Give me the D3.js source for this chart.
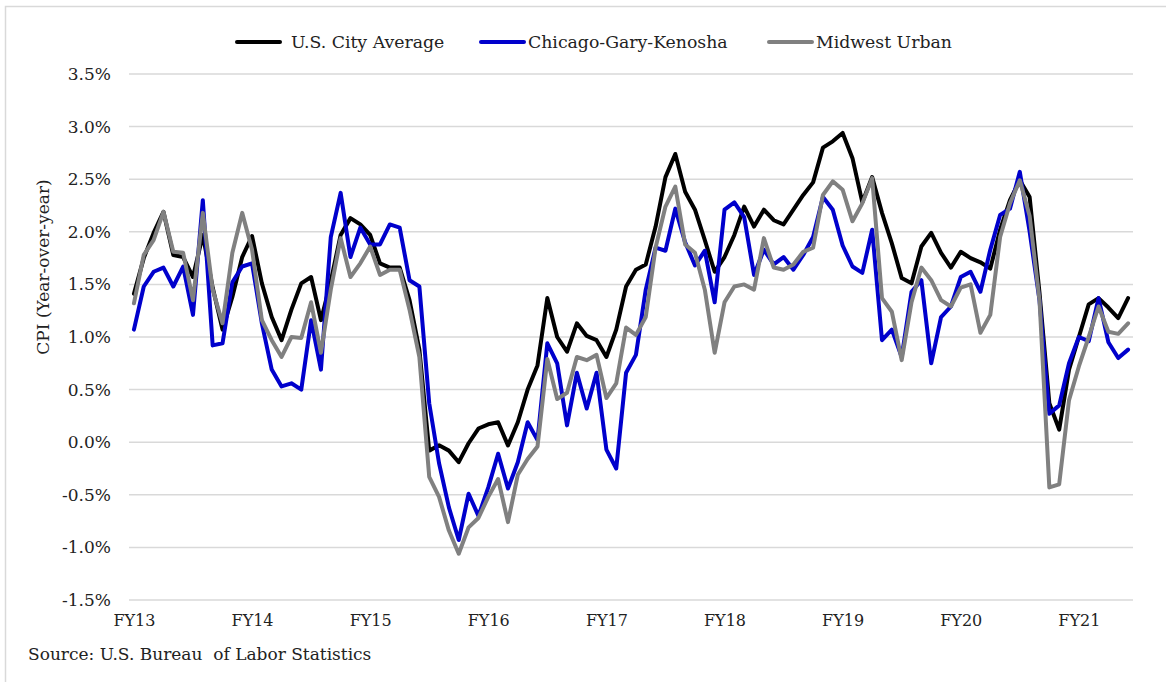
<!DOCTYPE html>
<html>
<head>
<meta charset="utf-8">
<script src="https://cdn.jsdelivr.net/npm/d3@7"></script>
<style>
  body { margin: 0; background: #fff; }
  svg text { font-family: "DejaVu Serif", Georgia, serif; fill: #222; }
</style>
</head>
<body>
<div id="chart"></div>
<script>
// monthly CPI, year-over-year %, Jul 2012 (FY13) .. Dec 2020
const fyLabels = ["FY13", "FY14", "FY15", "FY16", "FY17", "FY18", "FY19", "FY20", "FY21"];
const yTicks = [-1.5, -1.0, -0.5, 0.0, 0.5, 1.0, 1.5, 2.0, 2.5, 3.0, 3.5];

const usCity = [
  1.41, 1.75, 1.99, 2.19, 1.78, 1.76, 1.57, 1.97, 1.47, 1.07, 1.38, 1.76,
  1.96, 1.51, 1.19, 0.97, 1.26, 1.51, 1.57, 1.16, 1.53, 1.97, 2.13, 2.07,
  1.97, 1.70, 1.66, 1.66, 1.35, 0.88, -0.08, -0.03, -0.08, -0.19, -0.01, 0.13,
  0.17, 0.19, -0.03, 0.19, 0.50, 0.73, 1.37, 1.00, 0.86, 1.13, 1.01, 0.97,
  0.81, 1.07, 1.48, 1.64, 1.69, 2.05, 2.52, 2.74, 2.38, 2.21, 1.92, 1.62,
  1.76, 1.97, 2.24, 2.05, 2.21, 2.11, 2.07, 2.21, 2.35, 2.47, 2.80, 2.86,
  2.94, 2.70, 2.28, 2.52, 2.18, 1.89, 1.56, 1.51, 1.86, 1.99, 1.80, 1.66,
  1.81, 1.75, 1.71, 1.65, 2.02, 2.30, 2.49, 2.33, 1.42, 0.37, 0.12, 0.69,
  1.00, 1.31, 1.37, 1.28, 1.18, 1.37
];

const chicago = [
  1.07, 1.48, 1.62, 1.66, 1.48, 1.67, 1.21, 2.30, 0.92, 0.94, 1.52, 1.67,
  1.70, 1.13, 0.69, 0.53, 0.56, 0.50, 1.16, 0.69, 1.95, 2.37, 1.76, 2.04,
  1.88, 1.88, 2.07, 2.04, 1.54, 1.48, 0.37, -0.20, -0.62, -0.93, -0.49, -0.70,
  -0.43, -0.11, -0.44, -0.19, 0.19, 0.02, 0.94, 0.75, 0.16, 0.66, 0.32, 0.66,
  -0.07, -0.25, 0.66, 0.83, 1.45, 1.85, 1.82, 2.22, 1.90, 1.68, 1.82, 1.33,
  2.21, 2.28, 2.14, 1.59, 1.83, 1.69, 1.76, 1.64, 1.78, 1.95, 2.33, 2.21,
  1.87, 1.67, 1.61, 2.02, 0.97, 1.07, 0.81, 1.43, 1.54, 0.75, 1.19, 1.29,
  1.57, 1.62, 1.43, 1.83, 2.16, 2.22, 2.57, 2.00, 1.35, 0.27, 0.35, 0.75,
  1.00, 0.96, 1.37, 0.95, 0.80, 0.88
];

const midwest = [
  1.32, 1.78, 1.92, 2.19, 1.81, 1.80, 1.35, 2.18, 1.45, 1.13, 1.80, 2.18,
  1.83, 1.16, 0.97, 0.81, 1.00, 0.99, 1.33, 0.85, 1.45, 1.94, 1.57, 1.70,
  1.86, 1.59, 1.64, 1.64, 1.26, 0.81, -0.33, -0.52, -0.84, -1.06, -0.81, -0.72,
  -0.52, -0.35, -0.76, -0.31, -0.16, -0.04, 0.79, 0.41, 0.47, 0.81, 0.78, 0.83,
  0.42, 0.56, 1.09, 1.02, 1.19, 1.85, 2.24, 2.43, 1.88, 1.80, 1.45, 0.85,
  1.33, 1.48, 1.50, 1.45, 1.94, 1.66, 1.64, 1.69, 1.81, 1.85, 2.35, 2.48,
  2.40, 2.10, 2.27, 2.51, 1.37, 1.24, 0.78, 1.33, 1.66, 1.54, 1.35, 1.29,
  1.47, 1.50, 1.04, 1.21, 1.95, 2.27, 2.49, 2.15, 1.35, -0.43, -0.40, 0.40,
  0.72, 1.00, 1.29, 1.05, 1.03, 1.13
];

const seriesNames = ["U.S. City Average", "Chicago-Gary-Kenosha", "Midwest Urban"];
const seriesColors = ["#000000", "#0000cc", "#808080"];

// month keys
const months = usCity.map((d, i) => {
  const m = (6 + i) % 12, y = 2012 + Math.floor((6 + i) / 12);
  return y + "-" + String(m + 1).padStart(2, "0");
});

const width = 1166, height = 682;
const svg = d3.select("#chart").append("svg")
  .attr("width", width)
  .attr("height", height);

// outer frame
svg.append("rect")
  .attr("x", 5.5).attr("y", 6.5)
  .attr("width", 1200).attr("height", 700)
  .attr("fill", "#fff")
  .attr("stroke", "#d9d9d9")
  .attr("stroke-width", 1.5);

const plotLeft = 129, plotRight = 1133;

const x = d3.scalePoint()
  .domain(months)
  .range([plotLeft, plotRight])
  .padding(0.5);

const y = d3.scaleLinear()
  .domain([-1.5, 3.5])
  .range([600, 74]);

// gridlines
svg.append("g")
  .selectAll("line")
  .data(yTicks)
  .enter().append("line")
  .attr("x1", plotLeft).attr("x2", plotRight)
  .attr("y1", d => y(d)).attr("y2", d => y(d))
  .attr("stroke", "#d9d9d9")
  .attr("stroke-width", 1.5);

// y axis labels (plain hyphen for negatives, like the original)
const yAxis = d3.axisLeft(y)
  .tickValues(yTicks)
  .tickSize(0)
  .tickPadding(0)
  .tickFormat(d => d.toFixed(1) + "%");

svg.append("g")
  .attr("transform", "translate(" + (plotLeft - 18) + ",0)")
  .call(yAxis)
  .call(g => g.select(".domain").remove())
  .selectAll("text")
  .attr("font-size", 17)
  .attr("font-family", "DejaVu Serif, serif")
  .attr("fill", "#222");

// x axis labels, one per fiscal year
const xAxis = d3.axisBottom(x)
  .tickValues(months.filter((d, i) => i % 12 === 0))
  .tickSize(0)
  .tickPadding(0)
  .tickFormat((d, i) => fyLabels[i]);

svg.append("g")
  .attr("transform", "translate(0,615)")
  .call(xAxis)
  .call(g => g.select(".domain").remove())
  .selectAll("text")
  .attr("font-size", 16)
  .attr("font-family", "DejaVu Serif, serif")
  .attr("fill", "#222");

// y axis title
svg.append("text")
  .attr("transform", "translate(49,267) rotate(-90)")
  .attr("text-anchor", "middle")
  .attr("font-size", 17)
  .text("CPI (Year-over-year)");

// lines
const line = d3.line()
  .x((d, i) => x(months[i]))
  .y(d => y(d));

[usCity, chicago, midwest].forEach((s, k) => {
  svg.append("path")
    .datum(s)
    .attr("d", line)
    .attr("fill", "none")
    .attr("stroke", seriesColors[k])
    .attr("stroke-width", 4)
    .attr("stroke-linejoin", "round")
    .attr("stroke-linecap", "round");
});

// legend
const legendX = [237, 481, 769];
const legend = svg.append("g");
seriesNames.forEach((name, k) => {
  legend.append("line")
    .attr("x1", legendX[k]).attr("x2", legendX[k] + 43)
    .attr("y1", 42).attr("y2", 42)
    .attr("stroke", seriesColors[k])
    .attr("stroke-width", 4)
    .attr("stroke-linecap", "round");
  legend.append("text")
    .attr("x", legendX[k] + (k === 0 ? 54 : 47))
    .attr("y", 48)
    .attr("font-size", 17.3)
    .text(name);
});

// source note
svg.append("text")
  .attr("x", 28)
  .attr("y", 660)
  .attr("font-size", 17)
  .attr("xml:space", "preserve")
  .style("white-space", "pre")
  .text("Source: U.S. Bureau  of Labor Statistics");
</script>
</body>
</html>
